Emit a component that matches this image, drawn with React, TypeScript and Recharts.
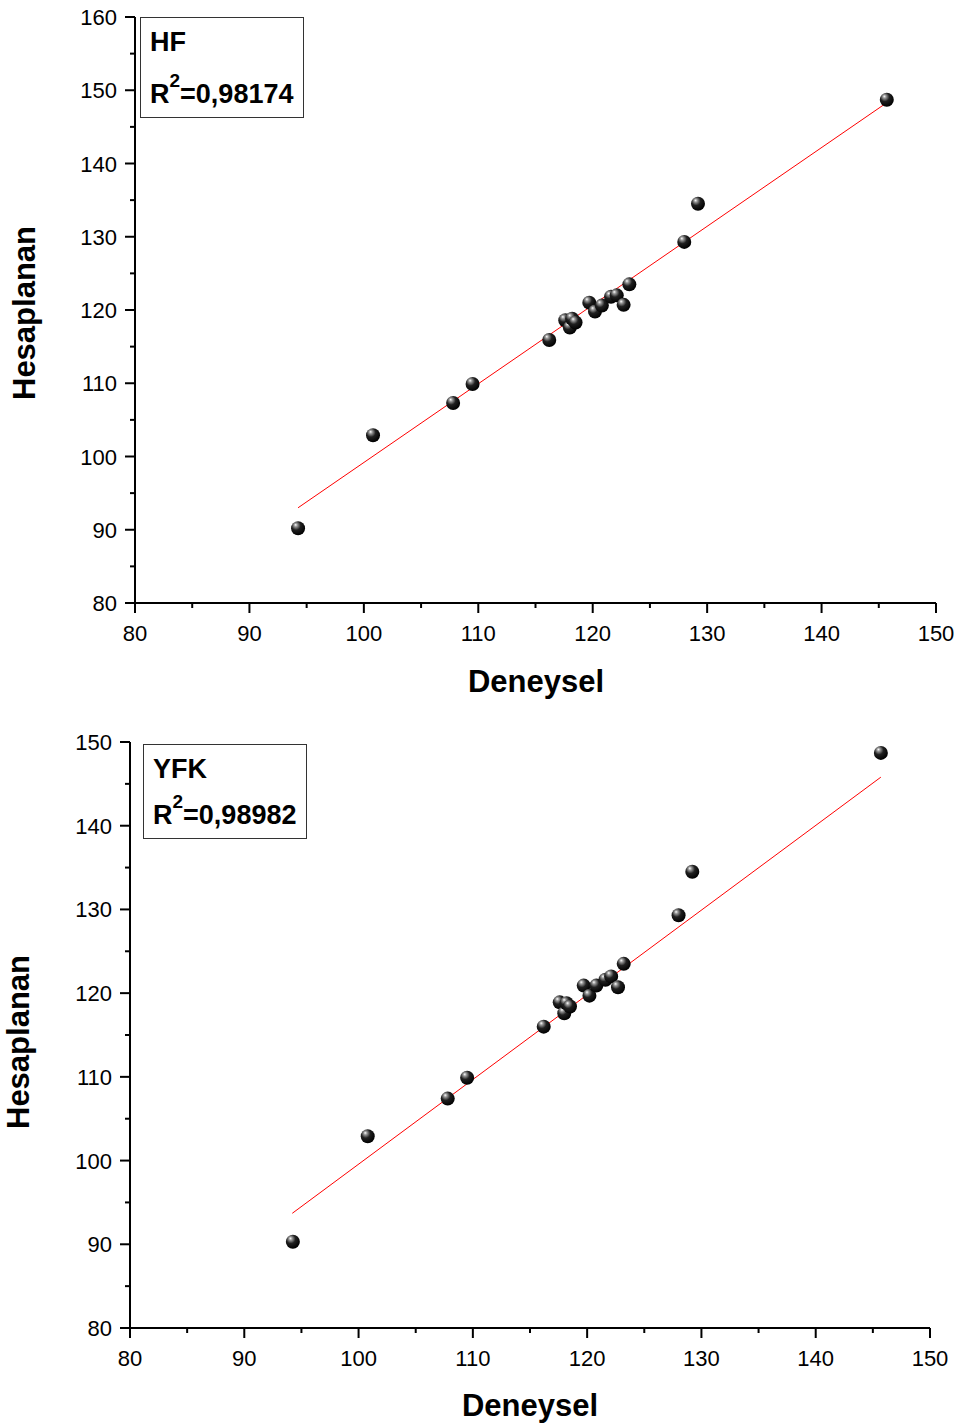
import React from 'react';
import { ScatterChart, Scatter, XAxis, YAxis, ReferenceLine } from 'recharts';

// Experimental values (Deneysel), shared by both panels
const deneysel = [94.25, 100.8, 107.8, 109.5, 116.2, 117.6, 118.0, 118.2, 118.5, 119.7, 120.2, 120.8, 121.6, 122.1, 122.7, 123.2, 128.0, 129.2, 145.7];
// Calculated values (Hesaplanan)
const hesaplananHF = [90.2, 102.9, 107.3, 109.9, 115.9, 118.6, 117.6, 118.8, 118.3, 121.0, 119.8, 120.6, 121.8, 122.0, 120.7, 123.5, 129.3, 134.5, 148.7];
const hesaplananYFK = [90.3, 102.9, 107.4, 109.9, 116.0, 118.9, 117.6, 118.8, 118.4, 120.9, 119.7, 120.9, 121.6, 122.0, 120.7, 123.5, 129.3, 134.5, 148.7];

// Regression line end points [x, y]
const fitHF = [[94.25, 93.0], [145.7, 148.3]];
const fitYFK = [[94.2, 93.7], [145.7, 145.8]];

const xTicks = [80, 85, 90, 95, 100, 105, 110, 115, 120, 125, 130, 135, 140, 145, 150];
const yTicksHF = [80, 85, 90, 95, 100, 105, 110, 115, 120, 125, 130, 135, 140, 145, 150, 155, 160];
const yTicksYFK = [80, 85, 90, 95, 100, 105, 110, 115, 120, 125, 130, 135, 140, 145, 150];

const FONT = '"Liberation Sans", Arial, sans-serif';
const TICK_SIZE = 10;
const TICK_MARGIN = 8;

const YTick = (props: any) => {
  const { x, y, payload } = props;
  const v = payload.value;
  const major = v % 10 === 0;
  const axisX = x + TICK_SIZE + TICK_MARGIN;
  return (
    <g>
      <line x1={axisX - (major ? 10 : 5)} x2={axisX} y1={y} y2={y} stroke="#000" strokeWidth={2} />
      {major && (
        <text x={x} y={y} dy={8} textAnchor="end" fontFamily={FONT} fontSize={22} fill="#000">
          {v}
        </text>
      )}
    </g>
  );
};

const XTick = (props: any) => {
  const { x, y, payload } = props;
  const v = payload.value;
  const major = v % 10 === 0;
  const axisY = y - TICK_SIZE - TICK_MARGIN;
  return (
    <g>
      <line x1={x} x2={x} y1={axisY} y2={axisY + (major ? 10 : 5)} stroke="#000" strokeWidth={2} />
      {major && (
        <text x={x} y={y} dy={20} textAnchor="middle" fontFamily={FONT} fontSize={22} fill="#000">
          {v}
        </text>
      )}
    </g>
  );
};

const Ball = (props: any) => {
  const { cx, cy } = props;
  if (cx == null || cy == null) return null;
  return <circle cx={cx} cy={cy} r={7} fill="url(#ballGrad)" />;
};

const toPoints = (xs: number[], ys: number[]) => xs.map((x, i) => ({ x, y: ys[i] }));

type PanelProps = {
  top: number;
  height: number;
  margin: { top: number; right: number; bottom: number; left: number };
  yDomain: [number, number];
  yTicks: number[];
  data: { x: number; y: number }[];
  fit: number[][];
};

const Panel = ({ top, height, margin, yDomain, yTicks, data, fit }: PanelProps) => (
  <div style={{ position: 'absolute', left: 0, top, width: 958, height }}>
    <ScatterChart width={958} height={height} margin={margin}>
      <XAxis
        type="number"
        dataKey="x"
        domain={[80, 150]}
        ticks={xTicks}
        interval={0}
        tick={<XTick />}
        tickLine={false}
        tickSize={TICK_SIZE}
        tickMargin={TICK_MARGIN}
        axisLine={{ stroke: '#000', strokeWidth: 2 }}
        height={50}
        allowDataOverflow
      />
      <YAxis
        type="number"
        dataKey="y"
        domain={yDomain}
        ticks={yTicks}
        interval={0}
        tick={<YTick />}
        tickLine={false}
        tickSize={TICK_SIZE}
        tickMargin={TICK_MARGIN}
        axisLine={{ stroke: '#000', strokeWidth: 2 }}
        width={60}
        allowDataOverflow
      />
      <Scatter data={data} shape={<Ball />} isAnimationActive={false} />
      <ReferenceLine
        segment={[
          { x: fit[0][0], y: fit[0][1] },
          { x: fit[1][0], y: fit[1][1] },
        ]}
        stroke="#ff0000"
        strokeWidth={1}
      />
    </ScatterChart>
  </div>
);

const boxStyle = (left: number, top: number, w: number, h: number): React.CSSProperties => ({
  position: 'absolute',
  left,
  top,
  width: w,
  height: h,
  border: '1px solid #333',
  boxSizing: 'border-box',
  background: '#fff',
  fontFamily: FONT,
  fontWeight: 'bold',
  fontSize: 27,
  color: '#000',
  whiteSpace: 'nowrap',
});

const supStyle: React.CSSProperties = { fontSize: 19, verticalAlign: 'top', position: 'relative', top: -9 };

const titleStyle = (cx: number, cy: number, rotate = false): React.CSSProperties => ({
  position: 'absolute',
  left: cx,
  top: cy,
  transform: `translate(-50%, -50%)${rotate ? ' rotate(-90deg)' : ''}`,
  fontFamily: FONT,
  fontWeight: 'bold',
  fontSize: 31,
  whiteSpace: 'nowrap',
  color: '#000',
  lineHeight: 1,
});

export default function App() {
  return (
    <div style={{ position: 'absolute', left: 0, top: 0, width: 958, height: 1425, background: '#fff', overflow: 'hidden' }}>
      <svg width={0} height={0} style={{ position: 'absolute' }}>
        <defs>
          <radialGradient id="ballGrad" cx="0.4" cy="0.35" r="0.65" fx="0.32" fy="0.25">
            <stop offset="0" stopColor="#ffffff" />
            <stop offset="0.18" stopColor="#9a9a9a" />
            <stop offset="0.5" stopColor="#202020" />
            <stop offset="1" stopColor="#000000" />
          </radialGradient>
        </defs>
      </svg>

      <Panel
        top={0}
        height={710}
        margin={{ top: 17, right: 22, bottom: 57, left: 75 }}
        yDomain={[80, 160]}
        yTicks={yTicksHF}
        data={toPoints(deneysel, hesaplananHF)}
        fit={fitHF}
      />
      <Panel
        top={710}
        height={715}
        margin={{ top: 32, right: 28, bottom: 47, left: 70 }}
        yDomain={[80, 150]}
        yTicks={yTicksYFK}
        data={toPoints(deneysel, hesaplananYFK)}
        fit={fitYFK}
      />

      <div style={boxStyle(140, 17, 164, 101)}>
        <div style={{ position: 'absolute', left: 9, top: 9 }}>HF</div>
        <div style={{ position: 'absolute', left: 9, top: 61 }}>
          R<sup style={supStyle}>2</sup>=0,98174
        </div>
      </div>
      <div style={boxStyle(143, 744, 164, 95)}>
        <div style={{ position: 'absolute', left: 9, top: 9 }}>YFK</div>
        <div style={{ position: 'absolute', left: 9, top: 55 }}>
          R<sup style={supStyle}>2</sup>=0,98982
        </div>
      </div>

      <div style={titleStyle(536, 681)}>Deneysel</div>
      <div style={titleStyle(24, 313, true)}>Hesaplanan</div>
      <div style={titleStyle(530, 1405)}>Deneysel</div>
      <div style={titleStyle(18, 1042, true)}>Hesaplanan</div>
    </div>
  );
}
